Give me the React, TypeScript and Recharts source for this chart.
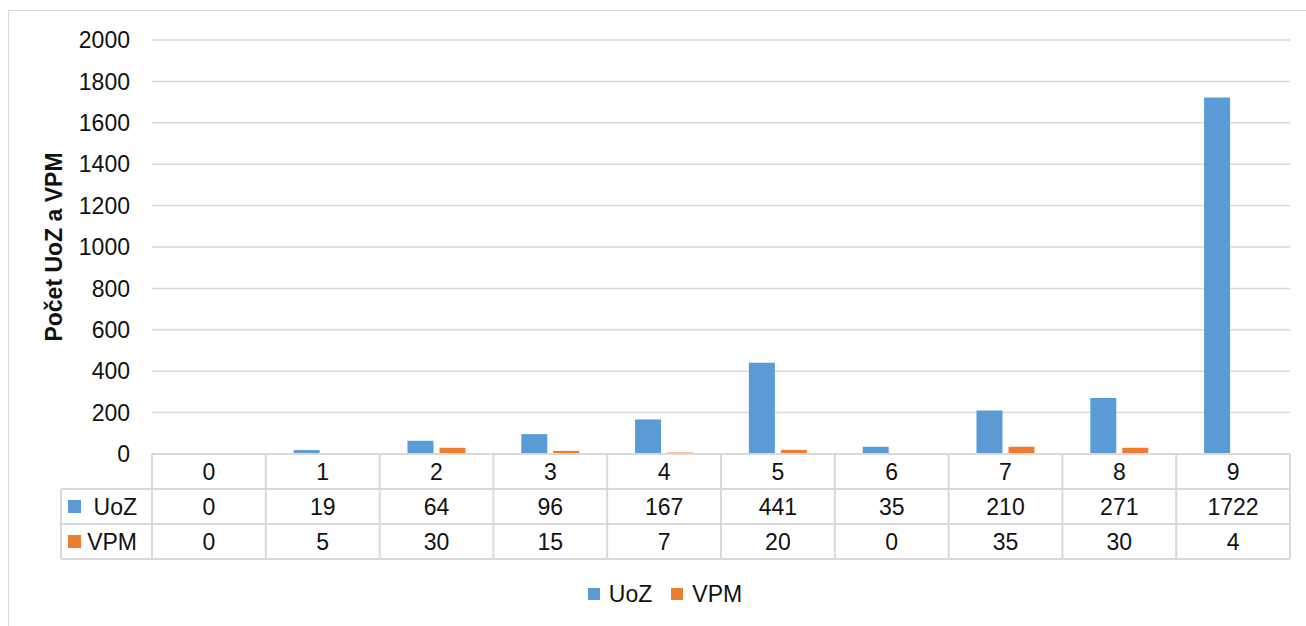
import React from 'react';
import { BarChart, Bar, XAxis, YAxis, CartesianGrid, Legend, Label } from 'recharts';

const categories = ['0', '1', '2', '3', '4', '5', '6', '7', '8', '9'];
const uozValues = [0, 19, 64, 96, 167, 441, 35, 210, 271, 1722];
const vpmValues = [0, 5, 30, 15, 7, 20, 0, 35, 30, 4];
const yTicks = [0, 200, 400, 600, 800, 1000, 1200, 1400, 1600, 1800, 2000];
const seriesNames = ['UoZ', 'VPM'];
const seriesColors = ['#5B9BD5', '#ED7D31'];
const seriesValues = [uozValues, vpmValues];
const axisTitle = 'Počet UoZ a VPM';

const W = 1306;
const H = 626;
const FONT = '"Liberation Sans", Arial, sans-serif';
const LINE = '#d9d9d9';
const ROW = 35;

const data = categories.map((c, i) => ({ cat: c, UoZ: uozValues[i], VPM: vpmValues[i] }));

function TableTick(props: any) {
  const { x, y, payload } = props;
  const i = payload.index ?? props.index;
  const half = payload.offset || (W - 152 - 16) / categories.length / 2;
  const left = x - half;
  const right = x + half;
  const last = i === categories.length - 1;
  const txt = { fontFamily: FONT, fontSize: 23, fill: '#111', textAnchor: 'middle' as const, dominantBaseline: 'central' as const };
  return (
    <g>
      <line x1={left} x2={right} y1={y} y2={y} stroke={LINE} strokeWidth={2} />
      <line x1={left} x2={right} y1={y + ROW} y2={y + ROW} stroke={LINE} strokeWidth={2} />
      <line x1={left} x2={right} y1={y + 2 * ROW} y2={y + 2 * ROW} stroke={LINE} strokeWidth={2} />
      <line x1={left} x2={right} y1={y + 3 * ROW} y2={y + 3 * ROW} stroke={LINE} strokeWidth={2} />
      <line x1={left} x2={left} y1={y} y2={y + 3 * ROW} stroke={LINE} strokeWidth={2} />
      {last && <line x1={right} x2={right} y1={y} y2={y + 3 * ROW} stroke={LINE} strokeWidth={2} />}
      <text x={x} y={y + ROW / 2} {...txt}>{payload.value}</text>
      {seriesValues.map((vals, s) => (
        <text key={s} x={x} y={y + ROW * (s + 1.5)} {...txt}>{vals[i]}</text>
      ))}
      {i === 0 && (
        <g>
          <line x1={left - 91} x2={left} y1={y + ROW} y2={y + ROW} stroke={LINE} strokeWidth={2} />
          <line x1={left - 91} x2={left} y1={y + 2 * ROW} y2={y + 2 * ROW} stroke={LINE} strokeWidth={2} />
          <line x1={left - 91} x2={left} y1={y + 3 * ROW} y2={y + 3 * ROW} stroke={LINE} strokeWidth={2} />
          <line x1={left - 91} x2={left - 91} y1={y + ROW} y2={y + 3 * ROW} stroke={LINE} strokeWidth={2} />
          {seriesNames.map((n, s) => (
            <g key={n}>
              <rect x={left - 84} y={y + ROW * (s + 1.5) - 6.5} width={13} height={13} fill={seriesColors[s]} />
              <text x={left - 15} y={y + ROW * (s + 1.5)} {...txt} textAnchor="end">{n}</text>
            </g>
          ))}
        </g>
      )}
    </g>
  );
}

function AxisTitle(props: any) {
  const vb = props.viewBox || { x: 0, y: 40, width: 152, height: 414 };
  const cx = vb.x + 54;
  const cy = vb.y + vb.height / 2;
  return (
    <text x={cx} y={cy} transform={`rotate(-90 ${cx} ${cy})`} textAnchor="middle" dominantBaseline="central"
      style={{ fontFamily: FONT, fontSize: 23, fontWeight: 'bold', fill: '#111' }}>
      {axisTitle}
    </text>
  );
}

function LegendContent() {
  return (
    <div style={{ display: 'flex', justifyContent: 'center', alignItems: 'center', paddingLeft: 24, fontFamily: FONT, fontSize: 23, color: '#111', lineHeight: '26px' }}>
      {seriesNames.map((n, s) => (
        <div key={n} style={{ display: 'flex', alignItems: 'center', marginRight: s < seriesNames.length - 1 ? 19 : 0 }}>
          <span style={{ display: 'inline-block', width: 12, height: 12, background: seriesColors[s], marginRight: 9 }} />
          <span>{n}</span>
        </div>
      ))}
    </div>
  );
}

export default function App() {
  return (
    <div style={{ position: 'absolute', left: 0, top: 0, width: W, height: H, overflow: 'hidden', background: '#fff' }}>
      <div style={{ position: 'absolute', left: 8, top: 10, width: W + 20, height: H + 20, border: `1.5px solid ${LINE}` }} />
      <BarChart width={W} height={H} data={data} margin={{ top: 40, right: 16, bottom: 0, left: 0 }}
        barCategoryGap="24.5%" barGap={6}>
        <CartesianGrid vertical={false} stroke={LINE} strokeWidth={1.5} />
        <YAxis type="number" domain={[0, 2000]} ticks={yTicks} width={152} axisLine={false} tickLine={false}
          tickSize={6} tickMargin={16} interval={0}
          tick={{ fontFamily: FONT, fontSize: 23, fill: '#111' }}>
          <Label content={<AxisTitle />} />
        </YAxis>
        <XAxis dataKey="cat" height={172} axisLine={false} tickLine={false} tickSize={0} tickMargin={0}
          interval={0} tick={<TableTick />} />
        <Legend verticalAlign="middle" wrapperStyle={{ top: 581, left: 0, width: W }} content={<LegendContent />} />
        {seriesNames.map((n, s) => (
          <Bar key={n} dataKey={n} fill={seriesColors[s]} isAnimationActive={false} />
        ))}
      </BarChart>
    </div>
  );
}
